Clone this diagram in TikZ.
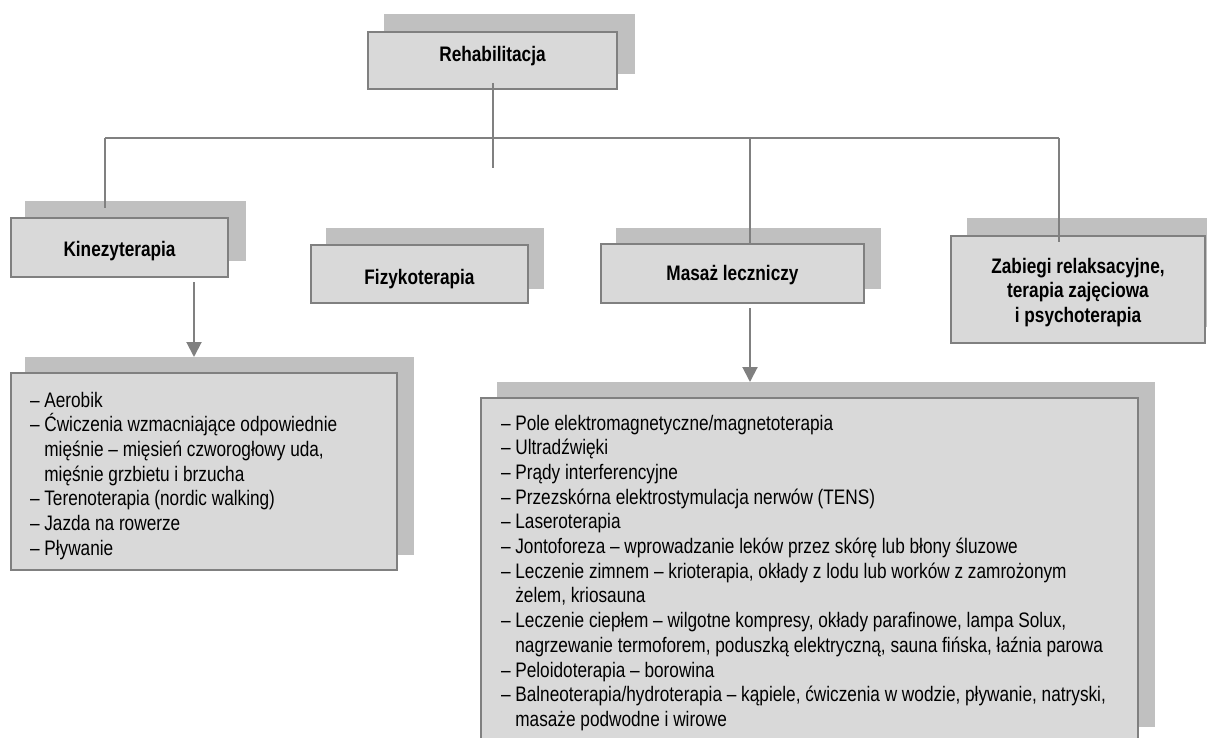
\documentclass[tikz,border=0pt]{standalone}
\usepackage{fontspec}
\setmainfont{Liberation Sans}[FakeStretch=0.82]
\usetikzlibrary{arrows.meta,calc}
\definecolor{frontgray}{RGB}{217,217,217}
\definecolor{shadegray}{RGB}{192,192,192}
\definecolor{bordergray}{RGB}{128,128,128}
\definecolor{linegray}{RGB}{128,128,128}
\newcommand\linestack[1]{\vtop{\baselineskip=24.7pt\lineskiplimit=-\maxdimen\lineskip=0pt #1}}
\newcommand\ctrline[1]{\hbox to 0pt{\hss #1\hss}}
\newcommand\ind{\hphantom{–\ }}
\begin{document}
\begin{tikzpicture}[x=1pt,y=-1pt,
  shadebox/.style={rectangle, fill=shadegray, draw=none, inner sep=0pt, outer sep=0pt},
  frontbox/.style={rectangle, fill=frontgray, draw=bordergray, line width=2pt, inner sep=0pt, outer sep=0pt},
  txt/.style={inner sep=0pt, outer sep=0pt, font=\fontsize{21}{24.7}\selectfont},
  head/.style={txt, font=\fontsize{21}{24.7}\selectfont\bfseries, anchor=base},
  conn/.style={draw=linegray, line width=2pt},
  arr/.style={conn, -{Triangle[length=15pt,width=15pt]}, fill=linegray}
]
\useasboundingbox (0,0) rectangle (1207,738);

% shadows
\node[shadebox, minimum width=251pt, minimum height=60pt] (rehabS) at (509.5,44) {};
\node[shadebox, minimum width=221pt, minimum height=60pt] (kinezS) at (135.5,231) {};
\node[shadebox, minimum width=218pt, minimum height=61pt] (fizykoS) at (435,258.5) {};
\node[shadebox, minimum width=265pt, minimum height=61pt] (masazS) at (748.5,258.5) {};
\node[shadebox, minimum width=248pt, minimum height=109pt] (zabS) at (1091,272.5) {};
\node[shadebox, minimum width=389pt, minimum height=198pt] (kinlistS) at (219.5,456) {};
\node[shadebox, minimum width=658pt, minimum height=345pt] (maslistS) at (826,554.5) {};

% front boxes
\node[frontbox, minimum width=249pt, minimum height=57pt] (rehab) at (492.5,60.5) {};
\node[frontbox, minimum width=217pt, minimum height=59pt] (kinez) at (119.5,247.5) {};
\node[frontbox, minimum width=217pt, minimum height=58pt] (fizyko) at (419.5,274) {};
\node[frontbox, minimum width=263pt, minimum height=59pt] (masaz) at (732.5,273.5) {};
\node[frontbox, minimum width=254pt, minimum height=107pt] (zab) at (1078,289.5) {};
\node[frontbox, minimum width=386pt, minimum height=197pt] (kinlist) at (204,471.5) {};
\node[frontbox, minimum width=657pt, minimum height=362pt] (maslist) at (809.5,579) {};

% texts
\node[head] (rehabT) at (492.5,62) {Rehabilitacja};
\node[head] (kinezT) at (119.5,256) {Kinezyterapia};
\node[head] (fizykoT) at (419.5,284) {Fizykoterapia};
\node[head] (masazT) at (732.5,280) {Masaż leczniczy};
\node[head] (zabT) at (1078,273) {\linestack{\ctrline{Zabiegi relaksacyjne,}\ctrline{terapia zajęciowa}\ctrline{i psychoterapia}}};

\node[txt, anchor=base west] (kinlistT) at (30,407) {\linestack{%
\hbox{– Aerobik}%
\hbox{– Ćwiczenia wzmacniające odpowiednie}%
\hbox{\ind mięśnie – mięsień czworogłowy uda,}%
\hbox{\ind mięśnie grzbietu i brzucha}%
\hbox{– Terenoterapia (nordic walking)}%
\hbox{– Jazda na rowerze}%
\hbox{– Pływanie}}};

\node[txt, anchor=base west] (maslistT) at (501,430) {\linestack{%
\hbox{– Pole elektromagnetyczne/magnetoterapia}%
\hbox{– Ultradźwięki}%
\hbox{– Prądy interferencyjne}%
\hbox{– Przezskórna elektrostymulacja nerwów (TENS)}%
\hbox{– Laseroterapia}%
\hbox{– Jontoforeza – wprowadzanie leków przez skórę lub błony śluzowe}%
\hbox{– Leczenie zimnem – krioterapia, okłady z lodu lub worków z zamrożonym}%
\hbox{\ind żelem, kriosauna}%
\hbox{– Leczenie ciepłem – wilgotne kompresy, okłady parafinowe, lampa Solux,}%
\hbox{\ind nagrzewanie termoforem, poduszką elektryczną, sauna fińska, łaźnia parowa}%
\hbox{– Peloidoterapia – borowina}%
\hbox{– Balneoterapia/hydroterapia – kąpiele, ćwiczenia w wodzie, pływanie, natryski,}%
\hbox{\ind masaże podwodne i wirowe}}};

% connectors
\coordinate (hL) at (105,138);
\coordinate (hR) at (1059,138);
\coordinate (mTop) at (750,138);
\coordinate (stub) at (492.5,168);
\draw[conn] ([yshift=6pt]rehab.south) -- (stub);
\draw[conn] (hL) -- (hR);
\draw[conn] (hL) -- ($(hL |- kinezS.north)+(0,7)$);
\draw[conn] (mTop) -- (mTop |- masaz.north);
\draw[conn] (hR) -- ($(hR |- zab.north)+(0,6)$);
\draw[arr] ($(kinez.south west)+(183,5)$) -- ($(kinlistS.north west)+(169,0)$);
\draw[arr] ($(masaz.south west)+(149,5)$) -- ($(maslistS.north west)+(253,0)$);
\end{tikzpicture}
\end{document}
